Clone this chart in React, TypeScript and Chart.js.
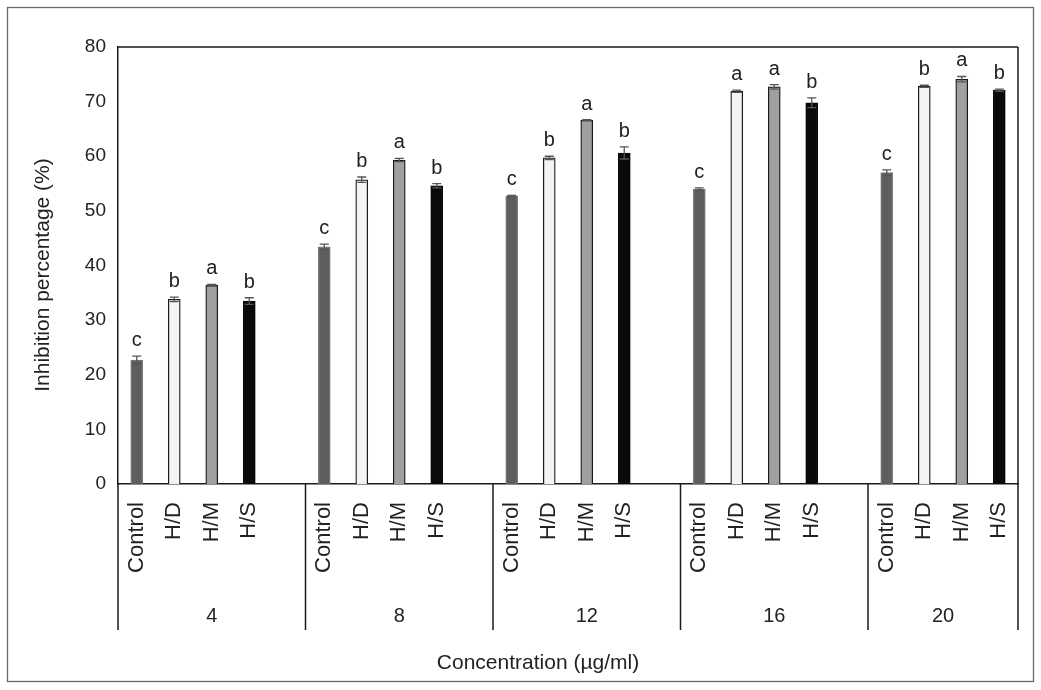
import React, { useEffect, useRef } from "react";
import { Chart, registerables } from "chart.js";

Chart.register(...registerables);

// Concentration groups (µg/ml) and treatments within each group
const concentrations = ["4", "8", "12", "16", "20"];
const treatments = ["Control", "H/D", "H/M", "H/S"];

// Mean inhibition (%) per concentration, one array per treatment
const controlMeans = [22.7, 43.4, 52.7, 54.0, 57.0];
const hdMeans = [33.8, 55.7, 59.7, 71.9, 72.8];
const hmMeans = [36.4, 59.3, 66.6, 72.7, 74.1];
const hsMeans = [33.5, 54.6, 60.6, 69.8, 72.1];

// Standard errors
const controlErr = [0.7, 0.5, 0.15, 0.2, 0.5];
const hdErr = [0.4, 0.5, 0.3, 0.2, 0.2];
const hmErr = [0.15, 0.3, 0.1, 0.4, 0.5];
const hsErr = [0.6, 0.4, 1.1, 0.9, 0.2];

// Significance letters
const controlLetters = ["c", "c", "c", "c", "c"];
const hdLetters = ["b", "b", "b", "a", "b"];
const hmLetters = ["a", "a", "a", "a", "a"];
const hsLetters = ["b", "b", "b", "b", "b"];

// Y axis range
const yMin = 0;
const yMax = 80;
const yStep = 10;

const FONT = "'Liberation Sans', Arial, Helvetica, sans-serif";
const TEXT = "#222222";

const fills = ["#5e5e5e", "#f4f4f4", "#a0a0a0", "#0a0a0a"];
const edges = ["#7a7a7a", "#1a1a1a", "#1a1a1a", "#0a0a0a"];

const meansByTreatment = [controlMeans, hdMeans, hmMeans, hsMeans];
const errByTreatment = [controlErr, hdErr, hmErr, hsErr];
const lettersByTreatment = [controlLetters, hdLetters, hmLetters, hsLetters];

// Flatten into category slots; an empty slot separates consecutive groups
const slotLabels: string[] = [];
const slotValues: (number | null)[] = [];
const slotErrors: number[] = [];
const slotLetters: string[] = [];
const slotFill: string[] = [];
const slotEdge: string[] = [];
const groupStart: number[] = [];
concentrations.forEach((_, g) => {
  groupStart.push(slotLabels.length);
  treatments.forEach((t, k) => {
    slotLabels.push(t);
    slotValues.push(meansByTreatment[k][g]);
    slotErrors.push(errByTreatment[k][g]);
    slotLetters.push(lettersByTreatment[k][g]);
    slotFill.push(fills[k]);
    slotEdge.push(edges[k]);
  });
  if (g < concentrations.length - 1) {
    slotLabels.push("");
    slotValues.push(null);
    slotErrors.push(0);
    slotLetters.push("");
    slotFill.push("rgba(0,0,0,0)");
    slotEdge.push("rgba(0,0,0,0)");
  }
});

const decorations = {
  id: "decorations",
  afterDatasetsDraw(chart: any) {
    const { ctx, scales } = chart;
    const x = scales.x;
    const y = scales.y;
    ctx.save();
    // error bars
    ctx.strokeStyle = "#555555";
    ctx.lineWidth = 1.3;
    slotValues.forEach((v, i) => {
      if (v == null) return;
      const cx = x.getPixelForValue(i);
      const yTop = y.getPixelForValue(v + slotErrors[i]);
      const yBot = y.getPixelForValue(v - slotErrors[i]);
      ctx.beginPath();
      ctx.moveTo(cx, yTop);
      ctx.lineTo(cx, yBot);
      ctx.moveTo(cx - 4.5, yTop);
      ctx.lineTo(cx + 4.5, yTop);
      ctx.moveTo(cx - 4.5, yBot);
      ctx.lineTo(cx + 4.5, yBot);
      ctx.stroke();
    });
    // significance letters
    ctx.fillStyle = TEXT;
    ctx.font = `20px ${FONT}`;
    ctx.textAlign = "center";
    ctx.textBaseline = "alphabetic";
    slotValues.forEach((v, i) => {
      if (v == null) return;
      const cx = x.getPixelForValue(i);
      const yTop = y.getPixelForValue(v + slotErrors[i]);
      ctx.fillText(slotLetters[i], cx, yTop - 10);
    });
    ctx.restore();
  },
  afterDraw(chart: any) {
    const { ctx, chartArea } = chart;
    const { left, right, top, bottom } = chartArea;
    const slotW = (right - left) / slotLabels.length;
    const dividerEnd = bottom + 146;
    ctx.save();

    // outer frame
    ctx.strokeStyle = "#6a6a6a";
    ctx.lineWidth = 1.3;
    ctx.strokeRect(7.5, 7.5, 1026, 674);

    // plot box top and right edge, group dividers
    ctx.strokeStyle = "#1a1a1a";
    ctx.lineWidth = 1.5;
    ctx.beginPath();
    ctx.moveTo(left, top);
    ctx.lineTo(right, top);
    ctx.moveTo(right, top);
    ctx.lineTo(right, dividerEnd);
    const bounds = groupStart.map((s) => left + s * slotW);
    bounds.push(right);
    bounds.forEach((bx) => {
      ctx.moveTo(bx, bottom);
      ctx.lineTo(bx, dividerEnd);
    });
    ctx.stroke();

    // concentration labels
    ctx.fillStyle = TEXT;
    ctx.font = `20px ${FONT}`;
    ctx.textAlign = "center";
    ctx.textBaseline = "middle";
    concentrations.forEach((c, g) => {
      const cx = (bounds[g] + bounds[g + 1]) / 2;
      ctx.fillText(c, cx, bottom + 132);
    });

    // axis titles
    ctx.font = `21px ${FONT}`;
    ctx.fillText("Concentration (µg/ml)", 538, 663);
    ctx.save();
    ctx.translate(43, 275);
    ctx.rotate(-Math.PI / 2);
    ctx.fillText("Inhibition percentage (%)", 0, 0);
    ctx.restore();

    ctx.restore();
  },
};

export default function App() {
  const canvasRef = useRef<HTMLCanvasElement | null>(null);

  useEffect(() => {
    if (!canvasRef.current) return;
    const chart = new Chart(canvasRef.current, {
      type: "bar",
      data: {
        labels: slotLabels,
        datasets: [
          {
            data: slotValues,
            backgroundColor: slotFill,
            borderColor: slotEdge,
            borderWidth: 1.3,
            barThickness: 12,
          },
        ],
      },
      options: {
        responsive: false,
        animation: false,
        layout: { padding: { top: 47, right: 23, left: 0, bottom: 0 } },
        plugins: {
          legend: { display: false },
          tooltip: { enabled: false },
        },
        scales: {
          x: {
            offset: true,
            grid: { display: false, drawTicks: false },
            border: { display: true, color: "#1a1a1a", width: 1.5 },
            ticks: {
              autoSkip: false,
              minRotation: 90,
              maxRotation: 90,
              padding: 18,
              color: TEXT,
              font: { family: FONT, size: 22 },
            },
            afterFit: (scale: any) => {
              scale.height = 206;
              scale.paddingLeft = 0;
              scale.paddingRight = 0;
            },
          },
          y: {
            min: yMin,
            max: yMax,
            grid: { display: false, drawTicks: false },
            border: { display: true, color: "#1a1a1a", width: 1.5 },
            ticks: {
              stepSize: yStep,
              padding: 12,
              color: TEXT,
              font: { family: FONT, size: 19 },
            },
            afterFit: (scale: any) => {
              scale.width = 118;
              scale.paddingTop = 0;
              scale.paddingBottom = 0;
            },
          },
        },
      },
      plugins: [decorations],
    });
    return () => chart.destroy();
  }, []);

  return (
    <div style={{ position: "fixed", left: 0, top: 0, width: 1041, height: 690, background: "#ffffff" }}>
      <canvas ref={canvasRef} width={1041} height={690} />
    </div>
  );
}
